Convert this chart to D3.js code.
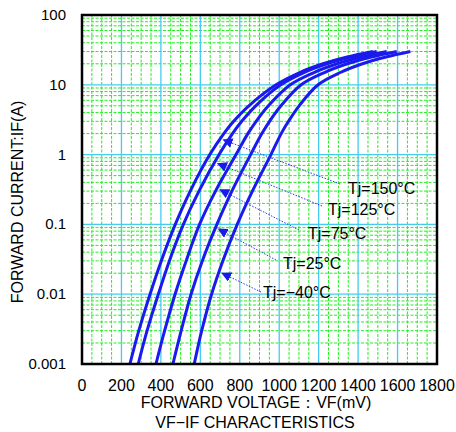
<!DOCTYPE html>
<html>
<head>
<meta charset="utf-8">
<script src="https://cdn.jsdelivr.net/npm/d3@7"></script>
<style>
  body { margin: 0; background: #fff; }
  text { font-family: "Liberation Sans", Arial, sans-serif; }
</style>
</head>
<body>
<div id="chart"></div>
<script>
// forward current levels (A)
const currents = [0.001, 0.003, 0.01, 0.03, 0.1, 0.3, 1, 2, 3, 5, 10, 15, 20, 25, 30];
// forward voltage (mV) at those currents, one array per junction temperature
const vf150 = [243, 288, 345, 402, 473, 549, 648, 719, 769, 846, 984, 1104, 1222, 1345, 1475];
const vf125 = [285, 330, 387, 443, 514, 593, 695, 763, 810, 881, 1008, 1125, 1242, 1364, 1494];
const vf75  = [375, 419, 472, 528, 596, 677, 781, 841, 883, 945, 1056, 1176, 1294, 1416, 1545];
const vf25  = [461, 503, 553, 610, 684, 760, 855, 912, 951, 1009, 1111, 1229, 1345, 1467, 1596];
const vfM40 = [569, 607, 657, 714, 787, 864, 958, 1010, 1047, 1101, 1197, 1310, 1422, 1541, 1665];
const series = [vf150, vf125, vf75, vf25, vfM40];
const labels = ["Tj=150°C", "Tj=125°C", "Tj=75°C", "Tj=25°C", "Tj=\u221240°C"];
// current where each label's arrow meets its curve
const arrowAt = [1.7, 0.78, 0.33, 0.09, 0.021];

const xTicks = [0, 200, 400, 600, 800, 1000, 1200, 1400, 1600, 1800];
const yTicks = [0.001, 0.01, 0.1, 1, 10, 100];
const yTickLabels = ["0.001", "0.01", "0.1", "1", "10", "100"];

const W = 456, H = 432;
const margin = { top: 15, right: 19, bottom: 68, left: 82 };
const gw = W - margin.left - margin.right;
const gh = H - margin.top - margin.bottom;

const svg = d3.select("#chart").append("svg")
    .attr("width", W)
    .attr("height", H);

const x = d3.scaleLinear().domain([0, 1800]).range([margin.left, margin.left + gw]);
const y = d3.scaleLog().domain([0.001, 100]).range([margin.top + gh, margin.top]);

// minor grid (green dashed)
const minorX = d3.range(50, 1800, 50).filter(v => v % 200 !== 0);
const minorY = [];
[0.001, 0.01, 0.1, 1, 10].forEach(d => {
    for (let k = 2; k <= 9; k++) minorY.push(d * k);
});

const grid = svg.append("g");
grid.selectAll(".mx").data(minorX).enter().append("line")
    .attr("x1", d => x(d)).attr("x2", d => x(d))
    .attr("y1", y(0.001)).attr("y2", y(100))
    .attr("stroke", "#22ee22").attr("stroke-width", 1)
    .attr("stroke-dasharray", "3,1.5");
grid.selectAll(".my").data(minorY).enter().append("line")
    .attr("x1", x(0)).attr("x2", x(1800))
    .attr("y1", d => y(d)).attr("y2", d => y(d))
    .attr("stroke", "#22ee22").attr("stroke-width", 1)
    .attr("stroke-dasharray", "3,1.5");

// major grid (cyan)
grid.selectAll(".Mx").data(xTicks).enter().append("line")
    .attr("x1", d => x(d)).attr("x2", d => x(d))
    .attr("y1", y(0.001)).attr("y2", y(100))
    .attr("stroke", "#44ccf0").attr("stroke-width", 1.3);
grid.selectAll(".My").data(yTicks).enter().append("line")
    .attr("x1", x(0)).attr("x2", x(1800))
    .attr("y1", d => y(d)).attr("y2", d => y(d))
    .attr("stroke", "#44ccf0").attr("stroke-width", 1.3);

// curves
const line = d3.line()
    .x(d => x(d[1]))
    .y(d => y(d[0]))
    .curve(d3.curveCatmullRom.alpha(0.5));

svg.selectAll(".curve").data(series).enter().append("path")
    .attr("d", s => line(currents.map((c, i) => [c, s[i]])))
    .attr("fill", "none")
    .attr("stroke", "#1a1aee")
    .attr("stroke-width", 3);

// frame
svg.append("rect")
    .attr("x", x(0)).attr("y", y(100))
    .attr("width", gw).attr("height", gh)
    .attr("fill", "none")
    .attr("stroke", "#000")
    .attr("stroke-width", 2.5);

// arrow marker
svg.append("defs").append("marker")
    .attr("id", "arr")
    .attr("viewBox", "0 0 10 10")
    .attr("refX", 10).attr("refY", 5)
    .attr("markerWidth", 10).attr("markerHeight", 10)
    .attr("markerUnits", "userSpaceOnUse")
    .attr("orient", "auto")
    .append("path")
    .attr("d", "M0,0 L10,5 L0,10 Z")
    .attr("fill", "#1a1aee");

// labels with dotted leaders
const labelPos = [[348, 194], [328, 215], [308, 239], [283, 269], [263, 298]];
const leaderEnd = [[340, 184], [322, 206], [299, 230], [276, 260], [261, 292]];

labels.forEach((t, i) => {
    const s = series[i];
    // voltage on curve at arrow current
    const logc = currents.map(c => Math.log10(c));
    const ax = x(d3.scaleLinear().domain(logc).range(s)(Math.log10(arrowAt[i])));
    const ay = y(arrowAt[i]);
    svg.append("line")
        .attr("x1", leaderEnd[i][0]).attr("y1", leaderEnd[i][1])
        .attr("x2", ax + 2).attr("y2", ay + 1)
        .attr("stroke", "#3333ee").attr("stroke-width", 1)
        .attr("stroke-dasharray", "1.5,1.5")
        .attr("marker-end", "url(#arr)");
    svg.append("text")
        .attr("x", labelPos[i][0]).attr("y", labelPos[i][1])
        .style("font-size", "16px")
        .text(t);
});

// tick labels
svg.selectAll(".xt").data(xTicks).enter().append("text")
    .attr("x", d => x(d)).attr("y", 391)
    .attr("text-anchor", "middle")
    .style("font-size", "16px")
    .text(d => d);
svg.selectAll(".yt").data(yTicks).enter().append("text")
    .attr("x", 66).attr("y", d => y(d) + 5)
    .attr("text-anchor", "end")
    .style("font-size", "15px")
    .text((d, i) => yTickLabels[i]);

// axis titles
svg.append("text")
    .attr("x", 256).attr("y", 408)
    .attr("text-anchor", "middle")
    .style("font-size", "16px")
    .text("FORWARD VOLTAGE：VF(mV)");
svg.append("text")
    .attr("x", 255).attr("y", 428)
    .attr("text-anchor", "middle")
    .style("font-size", "16px")
    .text("VF\u2212IF CHARACTERISTICS");
svg.append("text")
    .attr("transform", "rotate(-90)")
    .attr("x", -202).attr("y", 23)
    .attr("text-anchor", "middle")
    .style("font-size", "16px")
    .text("FORWARD CURRENT:IF(A)");
</script>
</body>
</html>
